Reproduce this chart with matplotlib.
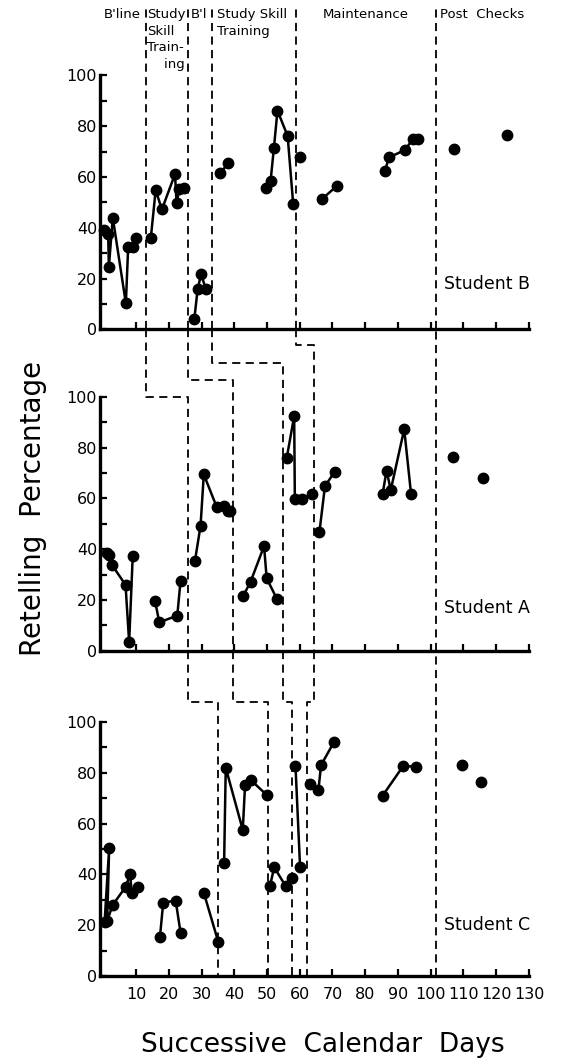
import numpy as np
import matplotlib
matplotlib.use("Agg")
import matplotlib.pyplot as plt

# ---- data (days, percent, segment id) ----
b_days = [0.3, 1.5, 1.7, 2.9, 6.9, 7.6, 9.0, 10.0,
          14.5, 16.0, 17.9, 21.9, 22.4, 23.2, 24.6,
          27.8, 28.8, 29.9, 31.3,
          35.6, 38.2,
          49.7, 51.1, 52.1, 53.2, 56.3, 58.0,
          60.2,
          66.7, 71.3,
          86.0, 87.3, 92.1, 94.5, 96.2,
          107.2, 123.3]
b_vals = [39.0, 37.5, 24.4, 44.0, 10.2, 32.3, 32.3, 36.1,
          35.8, 54.8, 47.2, 61.1, 49.6, 55.1, 55.5,
          3.9, 15.7, 21.8, 15.7,
          61.4, 65.4,
          55.5, 58.5, 71.3, 86.1, 76.1, 49.3,
          67.8,
          51.2, 56.4,
          62.5, 67.7, 70.6, 74.8, 75.0,
          71.1, 76.4]
b_seg = [0, 0, 0, 0, 0, 0, 0, 0,
         1, 1, 1, 1, 1, 1, 1,
         2, 2, 2, 2,
         3, 3,
         4, 4, 4, 4, 4, 4,
         5,
         6, 6,
         7, 7, 7, 7, 7,
         8, 9]

a_days = [1.0, 1.6, 2.7, 6.8, 7.9, 9.0,
          15.8, 17.1, 22.6, 23.6,
          28.0, 29.7, 30.7, 34.6, 36.9, 38.0, 38.8,
          42.8, 45.0, 49.1, 49.9, 53.1,
          56.0, 58.3, 58.5, 60.6, 63.6,
          66.0, 67.7, 70.7,
          85.3, 86.5, 87.8, 91.9, 94.0,
          106.9, 116.0]
a_vals = [38.5, 37.5, 33.7, 25.9, 3.3, 37.4,
          19.7, 11.2, 13.8, 27.6,
          35.4, 49.1, 69.4, 56.7, 57.1, 55.2, 54.9,
          21.7, 27.2, 41.2, 28.5, 20.2,
          75.7, 92.4, 59.6, 59.6, 61.7,
          46.6, 64.8, 70.5,
          61.6, 70.9, 63.3, 87.2, 61.6,
          76.4, 68.1]
a_seg = [0, 0, 0, 0, 0, 0,
         1, 1, 1, 1,
         2, 2, 2, 2, 2, 2, 2,
         3, 3, 3, 3, 3,
         4, 4, 4, 4, 4,
         5, 5, 5,
         6, 6, 6, 6, 6,
         7, 8]

c_days = [0.4, 1.8, 1.2, 2.9, 6.9, 8.2, 8.7, 10.5,
          17.3, 18.3, 22.1, 23.6,
          30.7, 35.1,
          36.9, 37.4, 42.6, 43.3, 45.0, 49.9,
          50.9, 52.2, 55.7, 57.7,
          58.7, 60.1,
          63.2, 65.7, 66.5, 70.4,
          85.3, 91.6, 95.5,
          109.4, 115.3]
c_vals = [21.2, 50.5, 21.8, 28.0, 35.2, 40.2, 32.5, 34.9,
          15.2, 28.9, 29.7, 17.1,
          32.8, 13.5,
          44.4, 82.0, 57.5, 75.2, 77.2, 71.3,
          35.4, 42.8, 35.4, 38.5,
          82.7, 42.8,
          75.5, 73.2, 83.0, 92.0,
          71.0, 82.7, 82.4,
          82.9, 76.5]
c_seg = [0, 0, 0, 0, 0, 0, 0, 0,
         1, 1, 1, 1,
         2, 2,
         3, 3, 3, 3, 3, 3,
         4, 4, 4, 4,
         5, 5,
         6, 6, 6, 6,
         7, 7, 7,
         8, 9]

# phase change lines (days) for each student
b_phase = [13.2, 25.8, 33.1, 58.8, 101.6]
a_phase = [26.0, 39.7, 54.8, 64.3, 101.6]
c_phase = [35.1, 50.4, 57.7, 62.1, 101.6]
ba_step = [100, 106.6, 113.1, 120.4]   # step heights between B and A (A units)
ac_step = [108, 108, 108, 108]         # step heights between A and C (C units)

phase_names = ["B'line", "Study\nSkill\nTrain-\n    ing", "B'l",
               "Study Skill\nTraining", "Maintenance", "Post  Checks"]
phase_text_x = [0, 13.4, 26.8, 34.7, 67.1, 102.8]

fig = plt.figure(figsize=(5.64, 10.61), dpi=100)
L, W, H = 0.1773, 0.7606, 0.2394
ax_b = fig.add_axes([L, 0.6896, W, H])
ax_a = fig.add_axes([L, 0.3867, W, H])
ax_c = fig.add_axes([L, 0.0801, W, H])

dash = (0, (4.5, 3))
dkw = dict(color="black", lw=1.3, linestyle=dash, clip_on=False)


def draw(ax, days, vals, seg, name, name_y):
    days = np.array(days)
    vals = np.array(vals)
    seg = np.array(seg)
    for s in np.unique(seg):
        m = seg == s
        ax.plot(days[m], vals[m], "-o", color="black", lw=1.8, ms=7.5,
                clip_on=False, zorder=3)
    ax.set_xlim(-1, 130)
    ax.set_ylim(0, 100)
    ax.spines["top"].set_visible(False)
    ax.spines["right"].set_visible(False)
    ax.spines["left"].set_linewidth(2.4)
    ax.spines["bottom"].set_linewidth(2.4)
    ax.set_xticks(np.arange(10, 131, 10))
    ax.set_yticks(np.arange(0, 101, 20))
    ax.set_yticks(np.arange(10, 100, 20), minor=True)
    ax.tick_params(direction="in", length=5, width=1.6, labelsize=11.5, pad=2)
    ax.tick_params(which="minor", direction="in", length=5, width=1.6)
    ax.text(104, name_y, name, fontsize=12.5, va="center", ha="left")
    ax.patch.set_visible(False)


draw(ax_b, b_days, b_vals, b_seg, "Student B", 18)
draw(ax_a, a_days, a_vals, a_seg, "Student A", 17)
draw(ax_c, c_days, c_vals, c_seg, "Student C", 20)
ax_b.set_xticklabels([])
ax_a.set_xticklabels([])
ax_c.tick_params(axis="x", pad=8)

# phase lines: top panel reaches up to the header
for x in b_phase:
    ax_b.plot([x, x], [0, 127.5], **dkw)
# staircase B -> A
for i in range(4):
    ax_a.plot([b_phase[i], b_phase[i], a_phase[i], a_phase[i]],
              [126.5, ba_step[i], ba_step[i], 0], **dkw)
ax_a.plot([a_phase[4], a_phase[4]], [0, 126.5], **dkw)
# staircase A -> C
for i in range(4):
    ax_c.plot([a_phase[i], a_phase[i], c_phase[i], c_phase[i]],
              [128.1, ac_step[i], ac_step[i], 0], **dkw)
ax_c.plot([c_phase[4], c_phase[4]], [0, 128.1], **dkw)

for name, x in zip(phase_names, phase_text_x):
    ax_b.text(x, 126.5, name, fontsize=9.5, va="top", ha="left",
              linespacing=1.35)

fig.text(33 / 564, 1 - 508 / 1061, "Retelling  Percentage", rotation=90,
         fontsize=20, ha="center", va="center")
fig.text(323 / 564, 1 - 1045 / 1061, "Successive  Calendar  Days",
         fontsize=19, ha="center", va="center")

fig.savefig("out.png", dpi=100)
